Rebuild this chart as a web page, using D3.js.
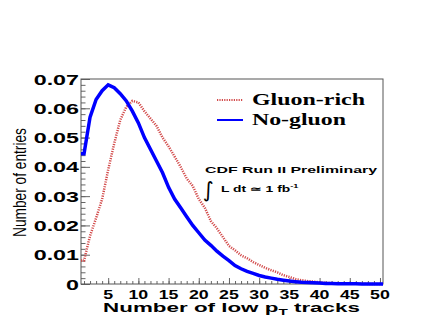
<!DOCTYPE html>
<html><head><meta charset="utf-8">
<script src="https://cdn.jsdelivr.net/npm/d3@7"></script>
<style>body{margin:0;background:#fff}svg{display:block}</style>
</head><body><svg id="c" width="436" height="327"></svg>
<script>
// ---- data ----
const bins = d3.range(1, 51); // bin centres, width 1
const gluonRich = [0.008,0.0165,0.0225,0.029,0.039,0.048,0.056,0.0605,0.0625,0.062,
  0.059,0.0565,0.054,0.050,0.047,0.0435,0.040,0.036,0.0335,0.029,
  0.026,0.0215,0.019,0.016,0.013,0.0115,0.0098,0.0088,0.0075,0.0065,
  0.0055,0.0047,0.004,0.003,0.0024,0.0017,0.0013,0.001,0.0008,0.0006,
  0.0004,0.0003,0.0002,0.00015,0.0001,0.00008,0.00006,0.00004,0.00003,0.00002];
const noGluon = [0.0445,0.057,0.063,0.066,0.068,0.067,0.065,0.0625,0.059,0.055,
  0.050,0.046,0.042,0.038,0.033,0.029,0.026,0.023,0.020,0.0175,
  0.015,0.0132,0.0112,0.0095,0.008,0.0063,0.0052,0.0043,0.0036,0.0029,
  0.0024,0.002,0.0016,0.0013,0.001,0.0008,0.0006,0.0005,0.0004,0.0003,
  0.0002,0.00015,0.0001,0.0001,0.00007,0.00005,0.00004,0.00003,0.00002,0.00001];
const xTicks = [5,10,15,20,25,30,35,40,45,50];
const xTickLabels = ["5","10","15","20","25","30","35","40","45","50"];
const yTicks = [0,0.01,0.02,0.03,0.04,0.05,0.06,0.07];
const yTickLabels = ["0","0.01","0.02","0.03","0.04","0.05","0.06","0.07"];
const seriesNames = ["Gluon-rich","No-gluon"];

// ---- layout ----
const L = 81, R = 383, T = 79, B = 284;
const svg = d3.select("#c");
const x = d3.scaleLinear().domain([0.5, 50.5]).range([L, R]);
const y = d3.scaleLinear().domain([0, 0.07]).range([B, T]);

// simple text, widened with textLength (sx = stretch factor or width = target)
function wideText(parent, px, py, str, opts) {
  const t = parent.append("text").attr("y", py)
    .style("font-family", opts.family || "'Liberation Sans', Arial, sans-serif")
    .style("font-size", opts.size + "px")
    .style("font-weight", opts.weight || "normal")
    .attr("fill", "#000").text(str);
  const nat = t.node().getComputedTextLength();
  const w = opts.width || nat * (opts.sx || 1);
  const a = opts.anchor || "start";
  const x0 = a === "middle" ? px - w / 2 : a === "end" ? px - w : px;
  t.attr("x", x0).attr("textLength", w).attr("lengthAdjust", "spacingAndGlyphs");
  return t;
}
// composite text (tspans), widened with a scale transform
function fitText(parent, px, py, build, opts) {
  const g = parent.append("g").attr("transform", `translate(${px},${py})`);
  const inner = g.append("g");
  const t = inner.append("text").attr("x", 0).attr("y", 0)
    .attr("text-anchor", opts.anchor || "start")
    .style("font-family", opts.family || "'Liberation Sans', Arial, sans-serif")
    .style("font-size", opts.size + "px")
    .style("font-weight", opts.weight || "normal")
    .attr("fill", "#000");
  build(t);
  const w = t.node().getBBox().width;
  const sx = opts.width / w;
  inner.attr("transform", (opts.rotate ? `rotate(${opts.rotate}) ` : "") + `scale(${sx},1)`);
  return g;
}

// ---- axes ticks ----
const gx = svg.append("g").attr("transform", `translate(0,${B})`);
gx.call(d3.axisBottom(x).tickValues(d3.range(1, 51)).tickSize(-3).tickFormat(""));
gx.append("g").call(d3.axisBottom(x).tickValues(xTicks).tickSize(-6).tickFormat(""));
const gy = svg.append("g").attr("transform", `translate(${L},0)`);
gy.call(d3.axisLeft(y).tickValues(d3.range(0, 0.0701, 0.002)).tickSize(-4.5).tickFormat(""));
gy.append("g").call(d3.axisLeft(y).tickValues(yTicks).tickSize(-9).tickFormat(""));
svg.selectAll(".domain").remove();
svg.selectAll(".tick line").attr("stroke", "#666").attr("stroke-width", 1);

// frame
svg.append("rect").attr("x", L).attr("y", T).attr("width", R - L).attr("height", B - T)
  .attr("fill", "none").attr("stroke", "#555").attr("stroke-width", 1);

// tick labels
yTicks.forEach((v, i) => {
  wideText(svg, 79, y(v) + 5.5, yTickLabels[i], {anchor: "end", size: 15.5, weight: "bold", sx: 1.5});
});
xTicks.forEach((v, i) => {
  wideText(svg, x(v), 298.7, xTickLabels[i], {anchor: "middle", size: 12, weight: "bold", sx: 1.48});
});

// axis titles
fitText(svg, 231.5, 311.5, t => {
  t.append("tspan").text("Number of low p");
  t.append("tspan").attr("dy", 3).style("font-size", "8.5px").text("T");
  t.append("tspan").attr("dy", -3).text(" tracks");
}, {anchor: "middle", size: 12.5, weight: "bold", width: 257});
fitText(svg, 26, 182.5, t => t.text("Number of entries"),
  {anchor: "middle", size: 19, rotate: -90, width: 109});

// ---- histograms (bin contents joined at bin centres, flat to the outer edges) ----
function histData(vals) {
  const d = [{x: bins[0] - 0.5, y: vals[0]}];
  bins.forEach((b, i) => d.push({x: b, y: vals[i]}));
  d.push({x: bins[bins.length - 1] + 0.5, y: vals[vals.length - 1]});
  return d;
}
const line = d3.line().x(d => x(d.x)).y(d => y(d.y));
svg.append("path").datum(histData(gluonRich)).attr("d", line)
  .attr("fill", "none").attr("stroke", "#d24a4a").attr("stroke-width", 2.5)
  .attr("stroke-dasharray", "1.2,1.2");
svg.append("path").datum(histData(noGluon)).attr("d", line)
  .attr("fill", "none").attr("stroke", "#0000ff").attr("stroke-width", 3.5)
  .attr("stroke-linejoin", "miter");

// ---- legend ----
svg.append("line").attr("x1", 217).attr("x2", 243).attr("y1", 100).attr("y2", 100)
  .attr("stroke", "#d24a4a").attr("stroke-width", 2).attr("stroke-dasharray", "1.2,1.2");
svg.append("line").attr("x1", 217).attr("x2", 243).attr("y1", 120).attr("y2", 120)
  .attr("stroke", "#0000ff").attr("stroke-width", 2);
wideText(svg, 252, 105, seriesNames[0],
  {size: 16.5, weight: "bold", family: "'Liberation Serif', 'Times New Roman', serif", width: 113});
wideText(svg, 252, 125, seriesNames[1],
  {size: 16.5, weight: "bold", family: "'Liberation Serif', 'Times New Roman', serif", width: 94});

// ---- CDF annotation ----
wideText(svg, 205, 173, "CDF Run II Preliminary", {size: 9, weight: "bold", width: 172});
svg.append("text").attr("x", 203).attr("y", 196.5)
  .style("font-family", "'DejaVu Sans', sans-serif").style("font-size", "21px")
  .text("∫");
fitText(svg, 221, 192, t => {
  t.append("tspan").text("L dt ≃ 1 fb");
  t.append("tspan").attr("dy", -4).style("font-size", "6px").text("-1");
}, {size: 9, weight: "bold", width: 79});
</script></body></html>
